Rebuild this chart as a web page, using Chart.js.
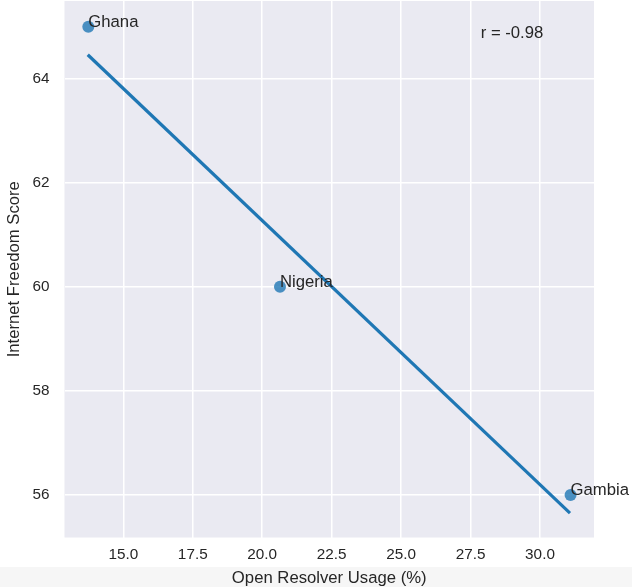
<!DOCTYPE html>
<html>
<head>
<meta charset="utf-8">
<script src="https://cdn.jsdelivr.net/npm/chart.js@4.4.1/dist/chart.umd.min.js"></script>
<style>
  html, body { margin: 0; padding: 0; background: #ffffff; }
  #wrap { width: 632px; height: 587px; }
</style>
</head>
<body>
<div id="wrap"><canvas id="chart" width="632" height="587"></canvas></div>
<script>
// values
const countries = ["Ghana", "Nigeria", "Gambia"];
const resolverUsage = [13.74, 20.64, 31.1];   // x, %
const freedomScore = [65.0, 60.0, 56.0];       // y
const fitX = [13.72, 31.08];                   // regression line ends
const fitY = [64.46, 55.65];
const xTicks = [15, 17.5, 20, 22.5, 25, 27.5, 30];
const yTicks = [56, 58, 60, 62, 64];
const rText = "r = -0.98";

const FONT = "'Liberation Sans', Arial, sans-serif";
const TXT = "#262626";
const BLUE = "#1f77b4";

const bgPlugin = {
  id: "bg",
  beforeDraw(chart) {
    const ctx = chart.ctx, a = chart.chartArea;
    ctx.save();
    ctx.fillStyle = "#ffffff";
    ctx.fillRect(0, 0, chart.width, chart.height);
    ctx.fillStyle = "#f6f6f6"; // grey strip under the figure
    ctx.fillRect(0, 567, chart.width, chart.height - 567);
    ctx.fillStyle = "#eaeaf2";
    ctx.fillRect(a.left, a.top, a.right - a.left, a.bottom - a.top);
    ctx.restore();
  }
};

const labelPlugin = {
  id: "labels",
  afterDatasetsDraw(chart) {
    const ctx = chart.ctx, a = chart.chartArea;
    const meta = chart.getDatasetMeta(0);
    ctx.save();
    ctx.font = "16.7px " + FONT;
    ctx.fillStyle = TXT;
    ctx.textAlign = "left";
    ctx.textBaseline = "alphabetic";
    meta.data.forEach((pt, i) => {
      ctx.fillText(countries[i], pt.x, pt.y); // matplotlib text: left/baseline at the point
    });
    // correlation note, axes fraction position
    ctx.fillText(rText, a.left + 0.786 * (a.right - a.left), a.top + 0.0697 * (a.bottom - a.top));
    ctx.restore();
  }
};

function noPad(s) {
  s.paddingTop = 0; s.paddingBottom = 0; s.paddingLeft = 0; s.paddingRight = 0;
}

new Chart(document.getElementById("chart"), {
  type: "scatter",
  data: {
    datasets: [
      {
        label: "countries",
        data: resolverUsage.map((x, i) => ({ x: x, y: freedomScore[i] })),
        backgroundColor: "rgba(31,119,180,0.8)",
        borderWidth: 0,
        pointRadius: 6,
        order: 2
      },
      {
        label: "fit",
        type: "line",
        data: fitX.map((x, i) => ({ x: x, y: fitY[i] })),
        borderColor: BLUE,
        borderWidth: 3.2,
        pointRadius: 0,
        fill: false,
        borderCapStyle: "butt",
        order: 1
      }
    ]
  },
  options: {
    responsive: false,
    animation: false,
    devicePixelRatio: 1,
    layout: { autoPadding: false, padding: { top: 1, right: 38, left: 0, bottom: 0 } },
    plugins: {
      legend: { display: false },
      tooltip: { enabled: false }
    },
    scales: {
      x: {
        type: "linear",
        min: 12.883,
        max: 31.944,
        afterBuildTicks: s => { s.ticks = xTicks.map(v => ({ value: v })); },
        afterFit: s => { s.height = 49.5; noPad(s); },
        grid: { color: "#ffffff", lineWidth: 1.5, drawTicks: false },
        border: { display: false },
        ticks: {
          color: TXT,
          padding: 10,
          font: { family: FONT, size: 15.3, lineHeight: 1 },
          callback: v => v.toFixed(1)
        },
        title: {
          display: true,
          text: "Open Resolver Usage (%)",
          color: TXT,
          font: { family: FONT, size: 16.7, lineHeight: 1 },
          padding: { top: 0, bottom: 0 }
        }
      },
      y: {
        type: "linear",
        min: 55.183,
        max: 65.493,
        afterBuildTicks: s => { s.ticks = yTicks.map(v => ({ value: v })); },
        afterFit: s => { s.width = 64.5; noPad(s); },
        grid: { color: "#ffffff", lineWidth: 1.5, drawTicks: false },
        border: { display: false },
        ticks: {
          color: TXT,
          padding: 15,
          font: { family: FONT, size: 15.3, lineHeight: 1 },
          callback: v => String(v)
        },
        title: {
          display: true,
          text: "Internet Freedom Score",
          color: TXT,
          font: { family: FONT, size: 16.7, lineHeight: 1 },
          padding: { top: 5.7, bottom: 0 }
        }
      }
    }
  },
  plugins: [bgPlugin, labelPlugin]
});
</script>
</body>
</html>
